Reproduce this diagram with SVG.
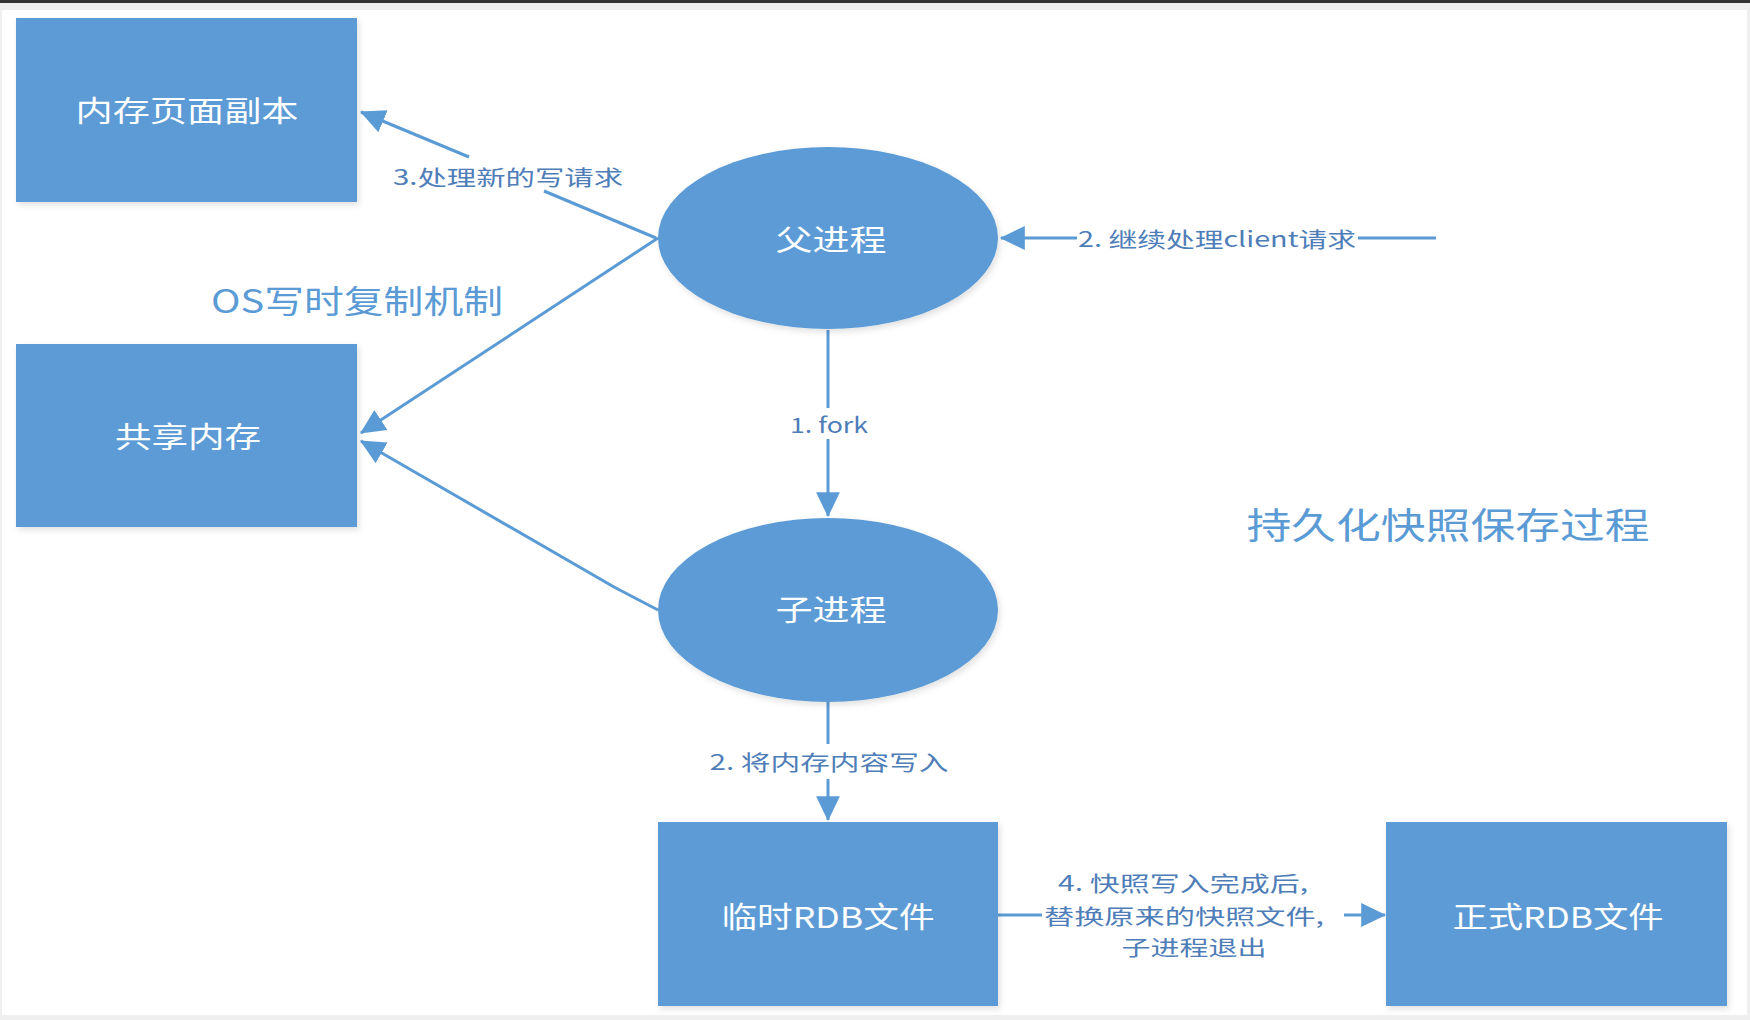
<svg xmlns="http://www.w3.org/2000/svg" width="1750" height="1020" viewBox="0 0 1750 1020">
<style>
.node{fill:#5B9BD5;}
.ntxt{fill:#ffffff;font-family:"Noto Sans CJK SC","Liberation Sans",sans-serif;font-size:29px;text-anchor:middle;dominant-baseline:central;}
.lbl{fill:#4E7DB8;font-family:"Noto Sans CJK SC","Liberation Sans",sans-serif;font-size:21px;text-anchor:middle;dominant-baseline:central;}
.title{fill:#5B9BD5;font-family:"Noto Sans CJK SC","Liberation Sans",sans-serif;text-anchor:middle;dominant-baseline:central;}
.edge{fill:none;stroke:#5B9BD5;stroke-width:3;}
</style>
<defs>
<marker id="arr" markerUnits="userSpaceOnUse" markerWidth="26" markerHeight="26" viewBox="0 0 24 24" refX="22" refY="12" orient="auto">
<path d="M0,1 L23,12 L0,23 z" fill="#5B9BD5"/>
</marker>
<filter id="sh" x="-5%" y="-5%" width="115%" height="115%">
<feDropShadow dx="2" dy="3" stdDeviation="3" flood-color="#000" flood-opacity="0.12"/>
</filter>
</defs>
<rect x="0" y="0" width="1750" height="1020" fill="#efefef"/>
<rect x="2" y="10" width="1745" height="1005" fill="#ffffff"/>
<rect x="0" y="0" width="1750" height="3" fill="#333333"/>

<g id="connectors">
<path class="edge" d="M656,238 L544,191"/>
<path class="edge" d="M469,157 L361,112" marker-end="url(#arr)"/>
<path class="edge" d="M658,238 L361,433" marker-end="url(#arr)"/>
<path class="edge" d="M658,610 L614,587 L361,441" marker-end="url(#arr)"/>
<path class="edge" d="M828,330 L828,408"/>
<path class="edge" d="M828,439 L828,516" marker-end="url(#arr)"/>
<path class="edge" d="M828,702 L828,744"/>
<path class="edge" d="M828,779 L828,820" marker-end="url(#arr)"/>
<path class="edge" d="M1436,238 L1358,238"/>
<path class="edge" d="M1077,238 L1001,238" marker-end="url(#arr)"/>
<path class="edge" d="M998,915 L1042,915"/>
<path class="edge" d="M1344,915 L1385,915" marker-end="url(#arr)"/>
<text class="lbl" x="508" y="176" textLength="230" lengthAdjust="spacingAndGlyphs">3.处理新的写请求</text>
<text class="lbl" x="829" y="424" textLength="78" lengthAdjust="spacingAndGlyphs">1. fork</text>
<text class="lbl" x="829" y="761" textLength="239" lengthAdjust="spacingAndGlyphs">2. 将内存内容写入</text>
<text class="lbl" x="1217" y="238" textLength="278" lengthAdjust="spacingAndGlyphs">2. 继续处理client请求</text>
<text class="lbl" x="1183" y="882" textLength="250" lengthAdjust="spacingAndGlyphs">4. 快照写入完成后,</text>
<text class="lbl" x="1184" y="915" textLength="280" lengthAdjust="spacingAndGlyphs">替换原来的快照文件,</text>
<text class="lbl" x="1194" y="946" textLength="145" lengthAdjust="spacingAndGlyphs">子进程退出</text>
</g>

<g id="node-page-copy">
<rect class="node" x="16" y="18" width="341" height="184" filter="url(#sh)"/>
<text class="ntxt" x="187" y="109" textLength="223" lengthAdjust="spacingAndGlyphs">内存页面副本</text>
</g>
<g id="node-shared-mem">
<rect class="node" x="16" y="344" width="341" height="183" filter="url(#sh)"/>
<text class="ntxt" x="188" y="435" textLength="146" lengthAdjust="spacingAndGlyphs">共享内存</text>
</g>
<g id="node-parent">
<ellipse class="node" cx="828" cy="238" rx="170" ry="91" filter="url(#sh)"/>
<text class="ntxt" x="831" y="238" textLength="111" lengthAdjust="spacingAndGlyphs">父进程</text>
</g>
<g id="node-child">
<ellipse class="node" cx="828" cy="610" rx="170" ry="92" filter="url(#sh)"/>
<text class="ntxt" x="831" y="608" textLength="111" lengthAdjust="spacingAndGlyphs">子进程</text>
</g>
<g id="node-temp-rdb">
<rect class="node" x="658" y="822" width="340" height="184" filter="url(#sh)"/>
<text class="ntxt" x="828" y="915" textLength="213" lengthAdjust="spacingAndGlyphs">临时RDB文件</text>
</g>
<g id="node-final-rdb">
<rect class="node" x="1386" y="822" width="341" height="184" filter="url(#sh)"/>
<text class="ntxt" x="1558" y="915" textLength="211" lengthAdjust="spacingAndGlyphs">正式RDB文件</text>
</g>

<g id="titles">
<text class="title" x="357" y="299" font-size="32" textLength="292" lengthAdjust="spacingAndGlyphs">OS写时复制机制</text>
<text class="title" x="1448" y="523" font-size="36" textLength="403" lengthAdjust="spacingAndGlyphs">持久化快照保存过程</text>
</g>
</svg>
